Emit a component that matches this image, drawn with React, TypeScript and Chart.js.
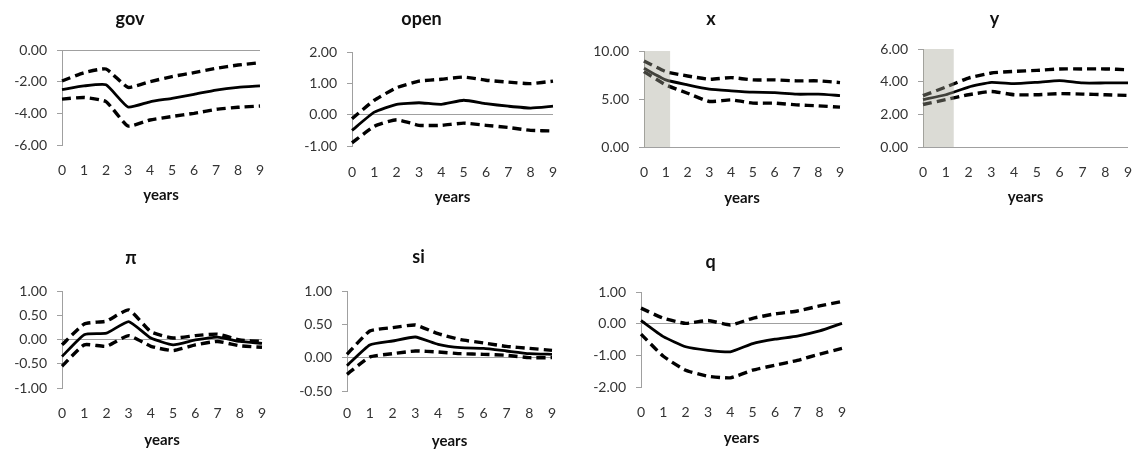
import React, { useEffect, useRef } from 'react';
import { Chart, registerables } from 'chart.js';

Chart.register(...registerables);

// ---------- data ----------
const years = ['0', '1', '2', '3', '4', '5', '6', '7', '8', '9'];

const govMid = [-2.5, -2.27, -2.2, -3.6, -3.27, -3.05, -2.8, -2.53, -2.36, -2.27];
const govUpper = [-1.96, -1.43, -1.2, -2.36, -2.0, -1.68, -1.43, -1.16, -0.95, -0.8];
const govLower = [-3.1, -3.0, -3.26, -4.8, -4.42, -4.2, -4.0, -3.75, -3.62, -3.54];

const openMid = [-0.5, 0.08, 0.33, 0.38, 0.33, 0.46, 0.35, 0.27, 0.21, 0.27];
const openUpper = [-0.13, 0.46, 0.86, 1.07, 1.13, 1.2, 1.1, 1.04, 0.99, 1.07];
const openLower = [-0.9, -0.37, -0.16, -0.34, -0.34, -0.27, -0.34, -0.41, -0.5, -0.52];

const xMid = [8.2, 6.99, 6.47, 6.02, 5.85, 5.71, 5.67, 5.5, 5.5, 5.36];
const xUpper = [8.96, 7.85, 7.4, 7.06, 7.23, 6.99, 6.99, 6.89, 6.89, 6.71];
const xLower = [7.85, 6.47, 5.6, 4.74, 4.91, 4.57, 4.57, 4.39, 4.29, 4.15];

const yMid = [2.9, 3.2, 3.67, 3.96, 3.88, 3.96, 4.06, 3.92, 3.92, 3.92];
const yUpper = [3.14, 3.67, 4.22, 4.53, 4.63, 4.69, 4.78, 4.78, 4.78, 4.73];
const yLower = [2.6, 2.9, 3.2, 3.4, 3.2, 3.2, 3.27, 3.24, 3.2, 3.16];

const piMid = [-0.35, 0.1, 0.13, 0.37, 0.03, -0.11, -0.01, 0.05, -0.04, -0.08];
const piUpper = [-0.11, 0.32, 0.38, 0.61, 0.16, 0.03, 0.08, 0.11, -0.01, -0.04];
const piLower = [-0.55, -0.11, -0.14, 0.08, -0.14, -0.23, -0.11, -0.04, -0.13, -0.16];

const siMid = [-0.12, 0.19, 0.25, 0.31, 0.2, 0.15, 0.14, 0.1, 0.06, 0.05];
const siUpper = [0.05, 0.4, 0.45, 0.49, 0.36, 0.27, 0.22, 0.17, 0.14, 0.11];
const siLower = [-0.25, 0.01, 0.06, 0.1, 0.085, 0.06, 0.05, 0.035, 0.0, 0.0];

const qMid = [0.1, -0.41, -0.73, -0.84, -0.89, -0.63, -0.49, -0.39, -0.23, 0.01];
const qUpper = [0.49, 0.17, 0.01, 0.1, -0.04, 0.17, 0.31, 0.4, 0.56, 0.7];
const qLower = [-0.33, -1.03, -1.47, -1.66, -1.71, -1.47, -1.31, -1.16, -0.96, -0.78];

// y-axis ranges [min, max, step]
const govAxis = [-6, 0, 2];
const openAxis = [-1, 2, 1];
const xAxis = [0, 10, 5];
const yAxis = [0, 6, 2];
const piAxis = [-1, 1, 0.5];
const siAxis = [-0.5, 1, 0.5];
const qAxis = [-2, 1, 1];

// shaded ranges on the year axis
const xShade = [0, 1.2];
const yShade = [0, 1.35];

// ---------- layout (page pixels) ----------
type Layout = { L: number; R: number; T: number; B: number; titleY: number; labelsY: number; yearsY: number };

const FONT = 'Lato, "Open Sans", sans-serif';
const Y_AXIS_W = 62;
const PAD_R = 24;
const TITLE_SIZE = 18;
const TICK_SIZE = 14;
const YEARS_SIZE = 15;

const shadePlugin = {
  id: 'shade',
  afterDatasetsDraw(chart: any, _args: any, opts: any) {
    const range = opts && opts.range;
    if (!range) return;
    const { ctx, chartArea, scales } = chart;
    const x0 = scales.x.getPixelForValue(range[0]);
    const x1 = scales.x.getPixelForValue(range[1]);
    ctx.save();
    ctx.fillStyle = 'rgba(165,165,150,0.4)';
    ctx.fillRect(x0, chartArea.top, x1 - x0, chartArea.bottom - chartArea.top);
    ctx.restore();
  },
};

type PanelProps = {
  title: string;
  mid: number[];
  upper: number[];
  lower: number[];
  axis: number[];
  shade?: number[];
  layout: Layout;
};

function Panel({ title, mid, upper, lower, axis, shade, layout }: PanelProps) {
  const ref = useRef<HTMLCanvasElement | null>(null);
  const { L, R, T, B, titleY, labelsY, yearsY } = layout;
  const titleLH = TITLE_SIZE * 1.2;
  const padTop = 2;
  const canvasTop = Math.round(titleY - padTop - titleLH / 2);
  const canvasLeft = L - Y_AXIS_W;
  const width = R - L + Y_AXIS_W + PAD_R;
  const titlePadBottom = T - canvasTop - padTop - titleLH;
  const yearsLH = YEARS_SIZE * 1.2;
  const xAxisH = yearsY + yearsLH / 2 - B;
  const height = Math.round(B + xAxisH - canvasTop);
  const tickPad = labelsY - B - (TICK_SIZE * 1.2) / 2;

  useEffect(() => {
    if (!ref.current) return;
    const line = (data: number[], dashed: boolean) => ({
      data,
      borderColor: '#000',
      backgroundColor: '#000',
      borderWidth: dashed ? 3.4 : 2.8,
      borderDash: dashed ? [9, 5] : [],
      pointRadius: 0,
      tension: 0.15,
      fill: false,
    });
    const chart = new Chart(ref.current, {
      type: 'line',
      data: {
        labels: years,
        datasets: [line(upper, true), line(lower, true), line(mid, false)],
      },
      plugins: [shadePlugin],
      options: {
        animation: false,
        responsive: false,
        devicePixelRatio: 1,
        layout: { padding: { left: 0, right: PAD_R, top: 0, bottom: 0 } },
        plugins: {
          legend: { display: false },
          tooltip: { enabled: false },
          title: {
            display: true,
            text: title,
            color: '#111',
            font: { family: FONT, size: TITLE_SIZE, weight: 'bold', lineHeight: 1.2 },
            padding: { top: padTop, bottom: titlePadBottom },
          },
          // @ts-ignore
          shade: { range: shade || null },
        },
        scales: {
          x: {
            type: 'category',
            offset: false,
            grid: { display: false, drawTicks: false },
            border: { display: false },
            ticks: {
              color: '#333',
              font: { family: FONT, size: TICK_SIZE, lineHeight: 1.2 },
              padding: tickPad,
              maxRotation: 0,
              autoSkip: false,
            },
            title: {
              display: true,
              text: 'years',
              color: '#111',
              font: { family: FONT, size: YEARS_SIZE, weight: 'bold', lineHeight: 1.2 },
              padding: { top: 0, bottom: 0 },
            },
            afterFit: (scale: any) => {
              scale.height = xAxisH;
            },
          },
          y: {
            min: axis[0],
            max: axis[1],
            grid: {
              drawTicks: true,
              tickLength: 5,
              tickColor: '#a0a0a0',
              color: (c: any) => (c.tick && Math.abs(c.tick.value) < 1e-9 ? '#a0a0a0' : 'rgba(0,0,0,0)'),
              lineWidth: 1,
            },
            border: { display: true, color: '#a0a0a0', width: 1 },
            ticks: {
              stepSize: axis[2],
              color: '#333',
              font: { family: FONT, size: TICK_SIZE, lineHeight: 1.2 },
              padding: 10,
              callback: (v: any) => Number(v).toFixed(2),
            },
            afterFit: (scale: any) => {
              scale.width = Y_AXIS_W;
            },
          },
        },
      } as any,
    });
    return () => chart.destroy();
  }, []);

  return (
    <canvas
      ref={ref}
      width={width}
      height={height}
      style={{ position: 'absolute', left: canvasLeft, top: canvasTop, width, height }}
    />
  );
}

const layouts: Layout[] = [
  { L: 62, R: 260, T: 50, B: 145, titleY: 19, labelsY: 170, yearsY: 195 },
  { L: 352, R: 553, T: 52, B: 146, titleY: 19, labelsY: 172, yearsY: 197 },
  { L: 644, R: 840, T: 51, B: 147, titleY: 19, labelsY: 172, yearsY: 198 },
  { L: 923, R: 1128, T: 49, B: 147, titleY: 19, labelsY: 172, yearsY: 197 },
  { L: 62, R: 262, T: 291, B: 388, titleY: 258, labelsY: 413, yearsY: 440 },
  { L: 347, R: 552, T: 291, B: 391, titleY: 257, labelsY: 413, yearsY: 441 },
  { L: 641, R: 842, T: 292, B: 387, titleY: 262, labelsY: 412, yearsY: 438 },
];

export default function App() {
  return (
    <div
      style={{
        position: 'fixed',
        left: 0,
        top: 0,
        width: 1139,
        height: 449,
        overflow: 'hidden',
        background: '#fff',
      }}
    >
      <Panel title="gov" mid={govMid} upper={govUpper} lower={govLower} axis={govAxis} layout={layouts[0]} />
      <Panel title="open" mid={openMid} upper={openUpper} lower={openLower} axis={openAxis} layout={layouts[1]} />
      <Panel title="x" mid={xMid} upper={xUpper} lower={xLower} axis={xAxis} shade={xShade} layout={layouts[2]} />
      <Panel title="y" mid={yMid} upper={yUpper} lower={yLower} axis={yAxis} shade={yShade} layout={layouts[3]} />
      <Panel title="π" mid={piMid} upper={piUpper} lower={piLower} axis={piAxis} layout={layouts[4]} />
      <Panel title="si" mid={siMid} upper={siUpper} lower={siLower} axis={siAxis} layout={layouts[5]} />
      <Panel title="q" mid={qMid} upper={qUpper} lower={qLower} axis={qAxis} layout={layouts[6]} />
    </div>
  );
}
